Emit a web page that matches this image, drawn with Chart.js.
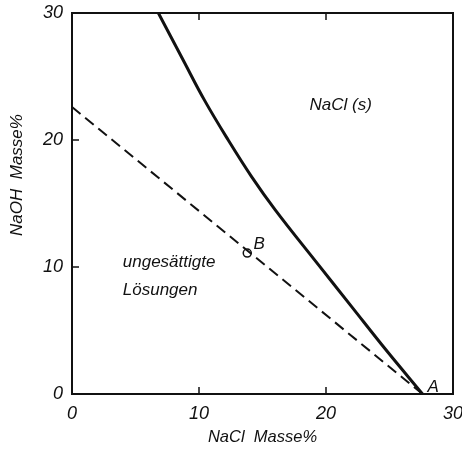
<!DOCTYPE html>
<html>
<head>
<meta charset="utf-8">
<script src="https://cdn.jsdelivr.net/npm/chart.js@4.4.1/dist/chart.umd.min.js"></script>
<style>
  body { margin: 0; background: #fff; }
  #wrap { width: 462px; height: 450px; }
</style>
</head>
<body>
<div id="wrap"><canvas id="phaseChart"></canvas></div>
<script>
// saturation curve NaCl(s) and the dashed mixing line through B to A
var curveNaCl = [6.8, 8.75, 10.45, 12.3, 14.15, 16.0, 19.3, 22.0, 24.7, 27.6];
var curveNaOH = [30, 26.3, 23.1, 20.0, 17.1, 14.5, 10.3, 6.9, 3.5, 0];
var lineNaCl = [0, 27.6];
var lineNaOH = [22.6, 0];
var pointB = [13.8, 11.1];
var tickValues = [0, 10, 20, 30];

// text labels placed in data units
var labels = [
  { text: "NaCl (s)", x: 18.7, y: 22.7 },
  { text: "ungesättigte", x: 4.0, y: 10.4 },
  { text: "Lösungen", x: 4.0, y: 8.2 },
  { text: "B", x: 14.3, y: 11.8 },
  { text: "A", x: 28.0, y: 0.5 }
];

function toXY(xs, ys) {
  return xs.map(function (x, i) { return { x: x, y: ys[i] }; });
}

var FONT = "'Liberation Sans', Arial, sans-serif";

var framePlugin = {
  id: "frame",
  afterDatasetsDraw: function (chart) {
    var ctx = chart.ctx;
    var a = chart.chartArea;
    var xs = chart.scales.x, ys = chart.scales.y;
    ctx.save();
    ctx.strokeStyle = "#111";
    ctx.lineWidth = 2;
    ctx.strokeRect(a.left, a.top, a.right - a.left, a.bottom - a.top);
    // inward ticks
    ctx.lineWidth = 1.5;
    [10, 20].forEach(function (v) {
      var px = xs.getPixelForValue(v);
      var py = ys.getPixelForValue(v);
      ctx.beginPath();
      ctx.moveTo(px, a.bottom); ctx.lineTo(px, a.bottom - 7);
      ctx.moveTo(px, a.top); ctx.lineTo(px, a.top + 7);
      ctx.moveTo(a.left, py); ctx.lineTo(a.left + 7, py);
      ctx.stroke();
    });
    // annotations
    ctx.fillStyle = "#111";
    ctx.font = "italic 17px " + FONT;
    ctx.textBaseline = "middle";
    ctx.textAlign = "left";
    labels.forEach(function (l) {
      ctx.fillText(l.text, xs.getPixelForValue(l.x), ys.getPixelForValue(l.y));
    });
    // y axis title
    ctx.translate(17, 175);
    ctx.rotate(-Math.PI / 2);
    ctx.textAlign = "center";
    ctx.font = "italic 17px " + FONT;
    ctx.fillText("NaOH  Masse%", 0, 0);
    ctx.restore();
  }
};

var ctx = document.getElementById("phaseChart").getContext("2d");
var phaseChart = new Chart(ctx, {
  type: "line",
  data: {
    datasets: [
      {
        data: toXY(curveNaCl, curveNaOH),
        borderColor: "#111",
        borderWidth: 3,
        pointRadius: 0,
        tension: 0.4,
        fill: false
      },
      {
        data: toXY(lineNaCl, lineNaOH),
        borderColor: "#111",
        borderWidth: 2,
        borderDash: [11, 6],
        pointRadius: 0,
        fill: false
      },
      {
        data: [{ x: pointB[0], y: pointB[1] }],
        showLine: false,
        pointRadius: 4,
        pointBackgroundColor: "#fff",
        pointBorderColor: "#111",
        pointBorderWidth: 1.5
      }
    ]
  },
  options: {
    responsive: true,
    maintainAspectRatio: false,
    animation: false,
    layout: { padding: { top: 13, right: 9, left: 0, bottom: 0 } },
    plugins: {
      legend: { display: false },
      tooltip: { enabled: false }
    },
    scales: {
      x: {
        type: "linear",
        min: 0,
        max: 30,
        afterBuildTicks: function (s) { s.ticks = tickValues.map(function (v) { return { value: v }; }); },
        grid: { display: false, tickLength: 0 },
        border: { display: false },
        ticks: { color: "#111", padding: 9, font: { family: FONT, size: 18, style: "italic" } },
        title: {
          display: true,
          text: "NaCl  Masse%",
          color: "#111",
          padding: { top: 0, bottom: 3 },
          font: { family: FONT, size: 16.5, style: "italic" }
        },
        afterFit: function (s) { s.height = 56; s.paddingLeft = 0; s.paddingRight = 0; }
      },
      y: {
        type: "linear",
        min: 0,
        max: 30,
        afterBuildTicks: function (s) { s.ticks = tickValues.map(function (v) { return { value: v }; }); },
        grid: { display: false, tickLength: 0 },
        border: { display: false },
        ticks: { color: "#111", padding: 9, font: { family: FONT, size: 18, style: "italic" } },
        afterFit: function (s) { s.width = 72; s.paddingTop = 0; s.paddingBottom = 0; }
      }
    }
  },
  plugins: [framePlugin]
});
</script>
</body>
</html>
